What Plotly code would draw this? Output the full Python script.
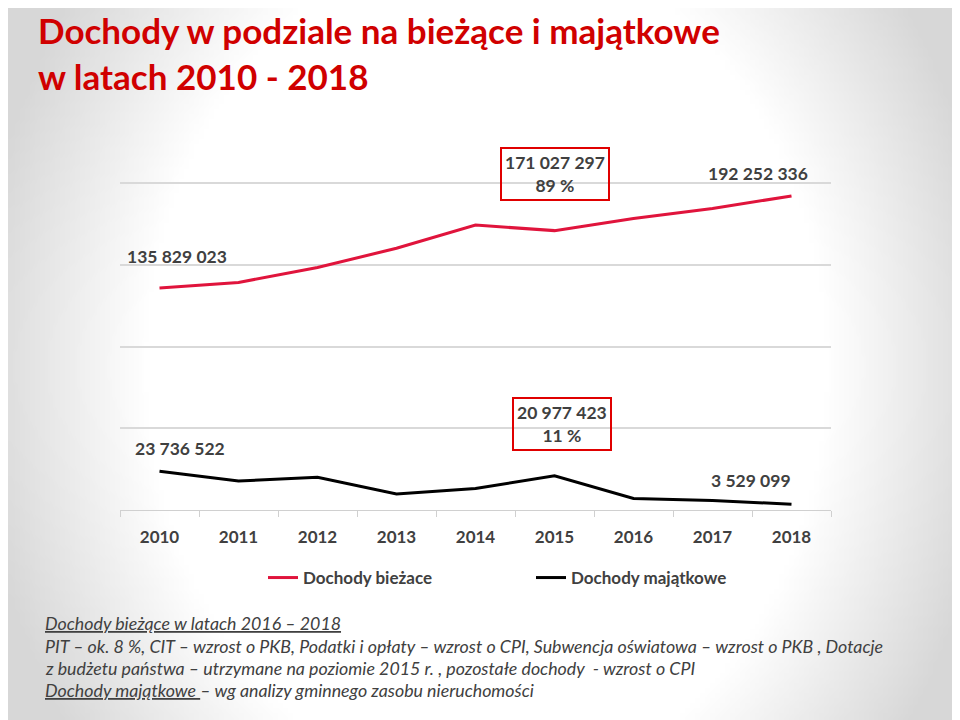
import base64
import struct
import zlib

import numpy as np
import plotly.graph_objects as go

# dane
years = ["2010", "2011", "2012", "2013", "2014", "2015", "2016", "2017", "2018"]
dochody_biezace = [135829023, 139300000, 148500000, 160200000, 174400000,
                   171027297, 178500000, 184600000, 192252336]
dochody_majatkowe = [23736522, 17700000, 20000000, 9800000, 13100000,
                     20977423, 7100000, 5800000, 3529099]

title_text = "Dochody w podziale na bieżące i majątkowe<br>w latach 2010 - 2018"
notes = [
    "<u>Dochody bieżące w latach 2016 – 2018</u>",
    "PIT – ok. 8 %, CIT – wzrost o PKB, Podatki i opłaty – wzrost o CPI, Subwencja oświatowa – wzrost o PKB , Dotacje",
    "z budżetu państwa – utrzymane na poziomie 2015 r. , pozostałe dochody  - wzrost o CPI",
    "<u>Dochody majątkowe </u>– wg analizy gminnego zasobu nieruchomości",
]

RED = "#E0143C"
TXT = "#404040"
FONT = "Lato"

# strona ma 8 px marginesu body, więc figura jest o 8 px mniejsza
OFF = 8
W, H = 960 - OFF, 720 - OFF
ML, MR, MT, MB = 120 - OFF, 129, 140 - OFF, 210
pw = W - ML - MR
ph = H - MT - MB


def fmt(v):
    return f"{v:,}".replace(",", " ")


def px_x(x):
    # piksel referencji -> współrzędne paper
    return (x - OFF - ML) / pw


def px_y(y):
    return (H - MB - (y - OFF)) / ph


def radial_bg(w=192, h=144):
    # tło: biały środek, szare brzegi
    ys, xs = np.mgrid[0:h, 0:w]
    dx = (xs - w * 0.5) / (w * 0.5)
    dy = (ys - h * 0.5) / (h * 0.5)
    r = np.sqrt(dx ** 2 + (dy * 0.6) ** 2)
    v = 255 - 40 * np.clip((r - 0.72) / 0.36, 0, 1)
    v = v.astype(np.uint8)
    raw = b"".join(b"\x00" + bytes(np.repeat(row, 3)) for row in v)

    def chunk(tag, data):
        c = tag + data
        return struct.pack(">I", len(data)) + c + struct.pack(">I", zlib.crc32(c) & 0xffffffff)

    png = b"\x89PNG\r\n\x1a\n"
    png += chunk(b"IHDR", struct.pack(">IIBBBBB", w, h, 8, 2, 0, 0, 0))
    png += chunk(b"IDAT", zlib.compress(raw, 9))
    png += chunk(b"IEND", b"")
    return "data:image/png;base64," + base64.b64encode(png).decode()


fig = go.Figure()
fig.add_trace(go.Scatter(x=years, y=dochody_biezace, mode="lines", name="Dochody bieżace",
                         line=dict(color=RED, width=3)))
fig.add_trace(go.Scatter(x=years, y=dochody_majatkowe, mode="lines", name="Dochody majątkowe",
                         line=dict(color="black", width=3)))

total_2015 = dochody_biezace[5] + dochody_majatkowe[5]
pct_b = round(dochody_biezace[5] / total_2015 * 100)
pct_m = round(dochody_majatkowe[5] / total_2015 * 100)

# etykiety danych (x = numer kategorii)
labels = [
    (0, dochody_biezace[0], fmt(dochody_biezace[0]), 17, 32, False),
    (5, dochody_biezace[5], f"{fmt(dochody_biezace[5])}<br>{pct_b} %", 0, 57, True),
    (8, dochody_biezace[8], fmt(dochody_biezace[8]), -34, 22, False),
    (0, dochody_majatkowe[0], fmt(dochody_majatkowe[0]), 20, 23, False),
    (5, dochody_majatkowe[5], f"{fmt(dochody_majatkowe[5])}<br>{pct_m} %", 7, 52, True),
    (8, dochody_majatkowe[8], fmt(dochody_majatkowe[8]), -41, 24, False),
]
for x, y, t, xs, ys, boxed in labels:
    fig.add_annotation(x=x, y=y, text=t, showarrow=False, xshift=xs, yshift=ys,
                       font=dict(family=FONT, size=17.5, color=TXT, weight="bold"),
                       bordercolor="#E00000" if boxed else None, borderwidth=2 if boxed else 0,
                       borderpad=3 if boxed else 0)

# przypisy pod wykresem
note_y = [623, 646, 668, 690]
for t, yy in zip(notes, note_y):
    fig.add_annotation(xref="paper", yref="paper", x=px_x(43), y=px_y(yy),
                       xanchor="left", yanchor="middle", text=f"<i>{t}</i>", showarrow=False,
                       font=dict(family=FONT, size=17.8, color=TXT))

# tytuł
fig.add_annotation(xref="paper", yref="paper", x=px_x(36), y=px_y(7),
                   xanchor="left", yanchor="top", align="left", text=f"<b>{title_text}</b>",
                   showarrow=False, font=dict(family=FONT, size=35, color="#D00000"))

fig.add_layout_image(source=radial_bg(), xref="paper", yref="paper",
                     x=-ML / pw, y=1 + MT / ph, sizex=W / pw, sizey=H / ph,
                     sizing="stretch", layer="below", xanchor="left", yanchor="top")

fig.update_layout(
    width=W, height=H,
    margin=dict(l=ML, r=MR, t=MT, b=MB),
    paper_bgcolor="white", plot_bgcolor="rgba(0,0,0,0)",
    showlegend=True,
    legend=dict(orientation="h", x=px_x(263), xanchor="left", y=px_y(578),
                yanchor="middle", bgcolor="rgba(0,0,0,0)", entrywidth=223,
                font=dict(family=FONT, size=17, color=TXT, weight="bold")),
    xaxis=dict(type="category", range=[-0.5, 8.5], autorange=False, showgrid=False,
               showline=True, linecolor="#d0d0d0", linewidth=1,
               ticks="outside", tickson="boundaries", ticklen=6, tickcolor="#d0d0d0",
               ticklabelstandoff=12,
               tickfont=dict(family=FONT, size=17, color=TXT, weight="bold")),
    yaxis=dict(range=[0, 226.5e6], dtick=50e6, showticklabels=False, gridcolor="#d9d9d9",
               gridwidth=1.5, zeroline=False),
)

fig.write_html("out.html")
